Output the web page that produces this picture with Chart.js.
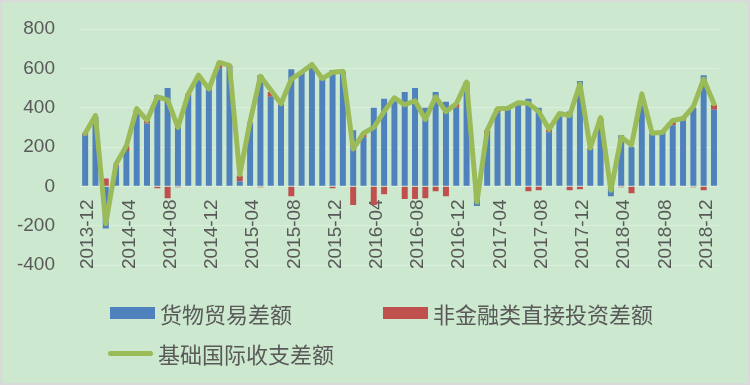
<!DOCTYPE html>
<html>
<head>
<meta charset="utf-8">
<script src="https://cdn.jsdelivr.net/npm/chart.js"></script>
<style>
  body{ margin:0; background:#cce8cf; }
  .wrap{ position:relative; width:750px; height:385px; background:#cce8cf; }
  .frame{ position:absolute; left:0; top:0; width:750px; height:385px; box-sizing:border-box; border:2px solid #d9d9d9; pointer-events:none; }
  .legend-item{ position:absolute; height:24px; display:flex; align-items:center; font-family:"Noto Sans CJK SC", sans-serif; font-size:22px; color:#595959; white-space:nowrap; }
  .legend-key{ width:45px; margin-right:5px; }
</style>
</head>
<body>
<div class="wrap">
  <canvas id="chart" width="750" height="385"></canvas>
  <div id="legend"></div>
  <div class="frame"></div>
</div>
<script>
// months on the x axis
const months = [
  '2013-12','2014-01','2014-02','2014-03','2014-04','2014-05','2014-06','2014-07','2014-08','2014-09','2014-10','2014-11',
  '2014-12','2015-01','2015-02','2015-03','2015-04','2015-05','2015-06','2015-07','2015-08','2015-09','2015-10','2015-11',
  '2015-12','2016-01','2016-02','2016-03','2016-04','2016-05','2016-06','2016-07','2016-08','2016-09','2016-10','2016-11',
  '2016-12','2017-01','2017-02','2017-03','2017-04','2017-05','2017-06','2017-07','2017-08','2017-09','2017-10','2017-11',
  '2017-12','2018-01','2018-02','2018-03','2018-04','2018-05','2018-06','2018-07','2018-08','2018-09','2018-10','2018-11',
  '2018-12','2019-01'
]

const seriesNames = ['货物贸易差额', '非金融类直接投资差额', '基础国际收支差额']

// 货物贸易差额
const tradeBalance = [
  260, 350, -215, 100, 180, 370, 320, 465, 500, 300, 460, 545,
  490, 600, 605, 25, 320, 565, 455, 415, 595, 580, 615, 545,
  590, 585, 285, 250, 400, 445, 440, 480, 500, 400, 480, 430,
  400, 525, -100, 265, 375, 395, 420, 445, 400, 275, 355, 380,
  535, 190, 335, -50, 260, 200, 420, 265, 270, 310, 335, 400,
  565, 390
]

// 非金融类直接投资差额
const fdiBalance = [
  10, 5, 40, 10, 25, 20, 15, -10, -60, -5, 10, 20,
  5, 30, 10, 30, 5, -5, 25, 5, -50, 0, 5, 0,
  -10, 0, -95, 20, -95, -40, 5, -65, -65, -60, -25, -50,
  20, 5, 20, 20, 20, 0, 5, -25, -20, 15, 10, -20,
  -15, 5, 10, 10, -5, -35, 10, 5, 5, 20, 10, -5,
  -20, 25
]

// 基础国际收支差额
const basicBalance = [
  270, 360, -190, 115, 205, 395, 335, 455, 440, 300, 470, 565,
  495, 630, 615, 60, 330, 560, 490, 420, 545, 580, 620, 548,
  580, 585, 190, 270, 300, 380, 450, 415, 435, 340, 455, 380,
  420, 530, -80, 285, 395, 397, 425, 422, 380, 290, 370, 360,
  520, 195, 350, -20, 250, 210, 470, 270, 275, 335, 345, 405,
  545, 420
]

const yMin = -400, yMax = 800, yStep = 200
const tickEvery = 4

const colors = ['#4f81bd', '#c0504d', '#9bbb59']
const textColor = '#595959'

const chart = new Chart(document.getElementById('chart'), {
  type: 'bar',
  data: {
    labels: months,
    datasets: [
      {
        label: seriesNames[0],
        data: tradeBalance,
        backgroundColor: colors[0],
        stack: 'bars',
        order: 1,
        barPercentage: 0.58,
        categoryPercentage: 1
      },
      {
        label: seriesNames[1],
        data: fdiBalance,
        backgroundColor: colors[1],
        stack: 'bars',
        order: 1,
        barPercentage: 0.58,
        categoryPercentage: 1
      },
      {
        type: 'line',
        label: seriesNames[2],
        data: basicBalance,
        borderColor: colors[2],
        backgroundColor: colors[2],
        borderWidth: 5,
        pointRadius: 0,
        tension: 0,
        borderJoinStyle: 'round',
        borderCapStyle: 'round',
        stack: 'line',
        order: 0
      }
    ]
  },
  options: {
    responsive: false,
    animation: false,
    layout: { padding: { left: 0, top: 29, right: 28, bottom: 120 } },
    plugins: {
      legend: { display: false },
      tooltip: { enabled: false }
    },
    scales: {
      x: {
        stacked: true,
        position: { y: 0 },
        afterFit: (scale) => { scale.paddingTop = 0; scale.paddingBottom = 0 },
        grid: { display: false, drawTicks: false },
        border: { display: false },
        ticks: {
          autoSkip: false,
          maxRotation: 90,
          minRotation: 90,
          padding: 13,
          labelOffset: 3,
          color: textColor,
          font: { family: 'Liberation Sans', size: 19 },
          callback: function(value, index){
            return index % tickEvery === 0 ? this.getLabelForValue(value) : ''
          }
        }
      },
      y: {
        stacked: true,
        min: yMin,
        max: yMax,
        afterFit: (scale) => { scale.width = 80; scale.paddingTop = 0; scale.paddingBottom = 0 },
        grid: { color: 'rgba(255,255,255,0.3)', drawTicks: false },
        border: { display: false },
        ticks: {
          stepSize: yStep,
          padding: 25,
          color: textColor,
          font: { family: 'Liberation Sans', size: 19 }
        }
      }
    }
  }
})

// legend laid out like the original: two items on the first row, one on the second
const legendPos = [[110, 301], [383, 301], [108, 341]]
const legend = document.getElementById('legend')
chart.data.datasets.forEach((ds, i) => {
  const item = document.createElement('div')
  item.className = 'legend-item'
  item.style.left = legendPos[i][0] + 'px'
  item.style.top = legendPos[i][1] + 'px'
  const key = document.createElement('span')
  key.className = 'legend-key'
  key.style.background = colors[i]
  key.style.height = ds.type === 'line' ? '5px' : '12px'
  if (ds.type === 'line') key.style.borderRadius = '3px'
  item.appendChild(key)
  item.appendChild(document.createTextNode(ds.label))
  legend.appendChild(item)
})
</script>
</body>
</html>
